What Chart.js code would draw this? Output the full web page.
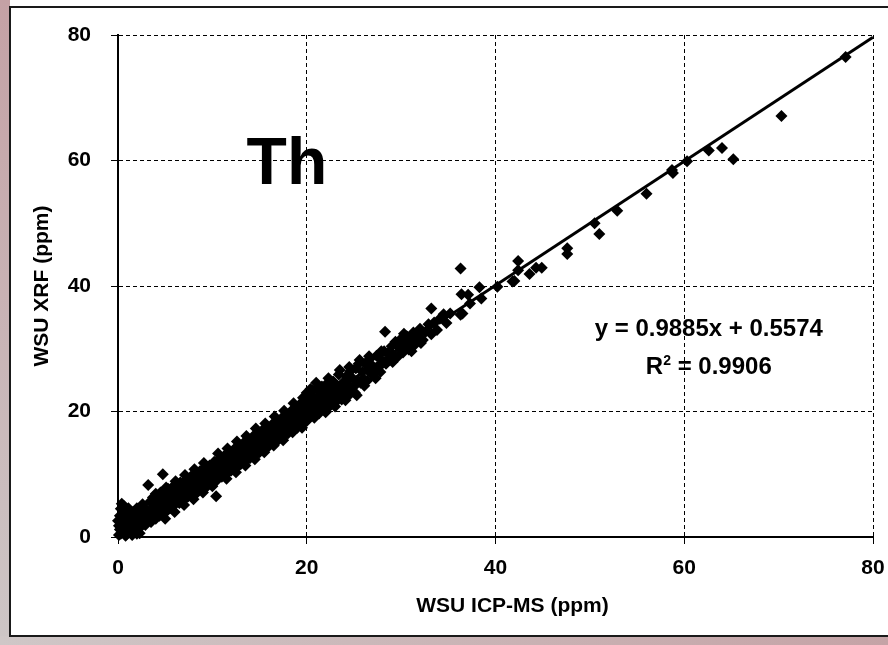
<!DOCTYPE html>
<html>
<head>
<meta charset="utf-8">
<script src="https://cdn.jsdelivr.net/npm/chart.js@4/dist/chart.umd.min.js"></script>
<style>
  html, body { margin: 0; padding: 0; }
  body { width: 888px; height: 645px; position: relative; overflow: hidden; background: #cbbfc0; }
  #leftStrip { position: absolute; left: 0; top: 0; width: 10px; height: 645px; background: linear-gradient(to bottom, #c4a1a5, #cdc6c6); }
  #bottomStrip { position: absolute; left: 0; top: 636px; width: 888px; height: 9px; background: linear-gradient(to right, #cfc7c7, #c5a3a6); }
  #panel { position: absolute; left: 10px; top: 0; width: 878px; height: 636px; background: #fff; }
  #chart { position: absolute; left: 0; top: 0; }
</style>
</head>
<body>
<div id="leftStrip"></div>
<div id="bottomStrip"></div>
<div id="panel"></div>
<canvas id="chart" width="888" height="645"></canvas>
<script>
// WSU ICP-MS (x) vs WSU XRF (y), Th in ppm
var samples = [
  [0.1,0.3],[0.2,1.2],[0.3,0.5],[0.3,2.1],[0.4,1.6],[0.3,4.5],[0.5,0.8],[0.5,3.0],[0.6,2.4],[0.6,5.0],
  [0.7,1.1],[0.7,4.0],[0.8,1.9],[0.9,0.4],[0.9,3.1],[1.0,1.4],[1.0,2.6],[1.1,4.6],[1.2,0.9],[1.2,2.0],
  [1.3,3.4],[1.4,1.5],[1.5,0.3],[1.5,2.8],[1.6,4.0],[1.7,2.2],[1.8,1.2],[1.8,3.5],[1.9,2.6],[2.0,4.6],
  [2.0,0.5],[2.1,1.8],[2.1,3.0],[2.2,2.3],[2.3,4.1],[2.4,1.6],[2.5,3.3],[2.6,5.2],[2.7,2.5],[2.8,3.8],
  [2.9,1.9],[3.0,4.4],[3.0,2.9],[0.0,2.6],[0.1,1.8],[0.2,3.4],[1.2,3.9],[0.8,0.2],[0.4,5.3],[2.3,0.6],
  [3.2,8.3],[4.75,10.0],[10.4,6.5],
  [3.3,3.1],[3.4,5.6],[3.5,2.4],[3.6,4.5],[3.7,6.3],[3.8,3.8],[3.9,5.2],[4.0,2.9],[4.1,6.6],[4.2,4.3],
  [4.3,5.7],[4.4,3.4],[4.5,7.1],[4.6,4.8],[4.7,6.0],[4.8,3.9],[4.9,7.3],[5.0,5.3],[5.1,6.6],[5.2,4.2],
  [5.3,7.7],[5.4,5.7],[5.5,4.6],[5.6,7.0],[5.7,6.1],[5.8,8.0],[5.9,5.0],[6.0,6.9],[6.1,5.6],[6.2,8.3],
  [6.3,6.2],[6.4,7.6],[6.5,5.4],[6.6,8.7],[6.7,6.8],[6.8,5.8],[6.9,8.0],[7.0,7.2],[7.1,6.1],[7.2,9.1],
  [7.3,7.6],[7.4,6.4],[7.5,8.5],[7.6,7.0],[7.7,9.6],[7.8,8.0],[7.9,6.8],[8.0,9.2],[8.1,7.5],[8.2,10.0],
  [8.3,8.4],[8.4,7.1],[8.5,9.6],[8.6,8.0],[8.7,10.5],[8.8,9.0],[8.9,7.6],[9.0,10.1],[9.1,8.5],[9.2,11.0],
  [9.3,9.4],[9.4,8.0],[9.5,10.6],[9.6,9.0],[9.7,11.4],[9.8,9.8],[9.9,8.6],[10.0,11.1],[10.1,9.4],[10.2,12.0],
  [10.3,10.3],
  [4.0,6.9],[5.0,2.9],[5.1,7.9],[6.0,4.0],[6.1,8.9],[7.0,5.1],[7.1,9.9],[8.0,6.0],[8.1,10.8],[9.0,7.1],
  [9.1,11.8],[10.0,8.1],
  [10.5,9.1],[10.6,11.6],[10.7,10.0],[10.8,12.5],[10.9,11.0],[11.0,9.6],[11.1,12.1],[11.2,10.6],[11.3,13.0],
  [11.4,11.5],[11.5,10.0],[11.6,12.6],[11.7,11.1],[11.8,13.4],[11.9,12.0],[12.0,10.6],[12.1,13.1],[12.2,11.6],
  [12.3,14.0],[12.4,12.4],[12.5,11.0],[12.6,13.6],[12.7,12.1],[12.8,14.5],[12.9,12.9],[13.0,11.6],[13.1,14.0],
  [13.2,12.6],[13.3,15.0],[13.4,13.4],[13.5,12.0],[13.6,14.6],[13.7,13.1],[13.8,15.5],[13.9,13.9],[14.0,12.6],
  [14.1,15.0],[14.2,13.6],[14.3,16.0],[14.4,14.3],[14.5,13.0],[14.6,15.6],[14.7,14.1],[14.8,16.4],[14.9,14.9],
  [15.0,13.5],[15.1,16.1],[15.2,14.6],[15.3,17.0],[15.4,15.3],[15.5,14.0],[15.6,16.6],[15.7,15.1],[15.8,17.4],
  [15.9,15.9],[16.0,14.5],[16.1,17.1],[16.2,15.6],[16.3,17.9],[16.4,16.3],[16.5,15.0],[16.6,17.6],[16.7,16.1],
  [16.8,18.4],[16.9,16.9],[17.0,15.5],[17.1,18.1],[17.2,16.6],[17.3,18.9],[17.4,17.3],[17.5,16.0],[17.6,18.6],
  [17.7,17.1],[17.8,19.4],[17.9,17.9],[18.0,16.5],[18.1,19.1],[18.2,17.6],[18.3,20.0],[18.4,18.3],[18.5,17.0],
  [18.6,19.7],[18.7,18.1],[18.8,20.6],[18.9,18.9],[19.0,17.4],[19.1,20.2],[19.2,18.6],[19.3,21.2],[19.4,19.4],
  [19.5,17.9],[19.6,20.8],[19.7,19.1],[19.8,21.8],[19.9,20.0],[20.0,18.5],[20.0,23.0],
  [10.6,13.3],[11.5,9.3],[11.6,14.1],[12.5,10.3],[12.6,15.2],[13.5,11.4],[13.6,16.1],[14.5,12.4],[14.6,17.3],
  [15.5,13.5],[15.6,18.1],[16.5,14.6],[16.6,19.2],[17.5,15.4],[17.6,20.1],[18.5,16.7],[18.6,21.3],[19.5,17.4],
  [19.6,22.2],[20.4,23.6],
  [20.2,21.3],[20.3,19.4],[20.4,22.4],[20.5,20.3],[20.6,23.3],[20.7,21.0],[20.8,19.0],[20.9,22.0],[21.0,20.5],
  [21.1,23.8],[21.2,21.6],[21.3,19.7],[21.4,22.7],[21.5,20.9],[21.6,24.0],[21.7,22.2],[21.8,20.3],[21.9,23.2],
  [22.0,21.5],[22.1,24.4],[22.2,22.7],[22.4,20.8],[22.5,23.7],[22.6,22.0],[22.8,24.8],[22.9,23.0],[23.0,21.4],
  [23.2,24.1],[23.3,22.5],[23.5,26.6],[23.6,23.5],[23.7,21.9],[23.9,24.7],[24.0,23.1],[24.2,25.6],[24.3,22.4],
  [24.4,24.2],[24.6,26.4],[24.7,23.0],[24.9,25.2],[25.0,24.0],[25.2,26.9],[25.3,22.6],[25.4,25.0],[25.6,28.2],
  [25.7,24.6],[25.9,26.3],[26.0,25.2],[26.2,27.6],[26.4,24.9],[26.5,26.6],[26.7,28.4],[26.9,25.9],[27.0,27.2],
  [27.2,26.2],[27.4,28.9],[27.6,27.0],[27.8,26.3],[28.0,28.1],[28.2,29.6],[28.3,32.7],[28.4,27.6],
  [21.0,24.6],[22.0,19.9],[22.3,25.3],[23.0,20.8],[23.4,25.9],[24.1,21.8],[24.5,27.1],[25.1,23.0],[25.5,27.6],
  [26.1,24.1],[26.6,28.8],[27.3,25.3],[27.9,29.6],
  [28.6,29.3],[28.8,28.2],[29.0,30.4],[29.2,29.0],[29.4,31.1],[29.6,28.7],[29.8,30.1],[30.0,31.6],[30.2,29.4],
  [30.4,30.8],[30.6,32.0],[30.8,29.9],[31.0,31.3],[31.3,32.6],[31.5,30.7],[31.8,31.9],[32.0,33.2],[32.3,31.4],
  [32.6,32.7],[32.9,33.9],[33.2,36.4],[33.2,32.3],[33.5,34.2],[33.8,33.0],[34.1,34.8],[34.5,35.5],[34.8,34.1],
  [35.2,35.6],[36.3,35.4],[36.5,35.6],[29.1,27.9],[30.3,32.4],[31.1,29.6],[32.1,30.9],
  [36.3,42.8],[36.4,38.7],[37.1,38.6],[37.3,37.2],[38.3,39.8],[38.5,38.0],[40.2,39.9],[41.8,40.7],[42.0,40.8],
  [42.4,44.0],[42.4,42.5],[43.6,41.9],[44.3,42.9],[44.9,42.9],[47.6,46.0],[47.6,45.1],[50.5,50.0],[51.0,48.3],
  [52.9,52.0],[56.0,54.7],[58.7,58.5],[58.8,58.0],[60.3,59.9],[62.6,61.6],[64.0,62.0],[65.2,60.2],[70.3,67.1],
  [77.1,76.5]
];

// linear trendline shown on the chart
var fitSlope = 0.9885;
var fitIntercept = 0.5574;
var fitRange = [0, 80];
var rSquared = '0.9906';

var axisMin = 0, axisMax = 80, axisStep = 20;
var xTitle = 'WSU ICP-MS (ppm)';
var yTitle = 'WSU XRF (ppm)';

var FONT = '"Liberation Sans", Arial, sans-serif';

var points = samples.map(function(p) { return {x: p[0], y: p[1]}; });
var fitLine = fitRange.map(function(x) { return {x: x, y: fitSlope * x + fitIntercept}; });

// outer frame lines and the text labels inside the plot
var decorPlugin = {
  id: 'decor',
  beforeDraw: function(chart) {
    var ctx = chart.ctx;
    ctx.save();
    ctx.strokeStyle = '#1a1a1a';
    ctx.lineWidth = 2;
    ctx.beginPath();
    ctx.moveTo(888, 7); ctx.lineTo(10, 7); ctx.lineTo(10, 636); ctx.lineTo(888, 636);
    ctx.stroke();
    ctx.restore();
  },
  afterDraw: function(chart) {
    var ctx = chart.ctx;
    var xs = chart.scales.x, ys = chart.scales.y;
    ctx.save();
    ctx.fillStyle = '#000';
    ctx.textBaseline = 'alphabetic';
    ctx.textAlign = 'center';

    // x axis title sits a little right of the plot centre
    ctx.font = 'bold 21px ' + FONT;
    ctx.fillText(xTitle, xs.getPixelForValue(41.8), 612);

    ctx.font = 'bold 66px ' + FONT;
    ctx.fillText('Th', xs.getPixelForValue(17.9), ys.getPixelForValue(56.2));

    var cx = xs.getPixelForValue(62.6);
    ctx.font = 'bold 24px ' + FONT;
    ctx.fillText('y = ' + fitSlope + 'x + ' + fitIntercept, cx, ys.getPixelForValue(32.1));

    // R² line with raised small 2
    var yR = ys.getPixelForValue(26.0);
    var a = 'R', b = ' = ' + rSquared;
    ctx.font = 'bold 24px ' + FONT;
    var wa = ctx.measureText(a).width, wb = ctx.measureText(b).width;
    ctx.font = 'bold 14px ' + FONT;
    var w2 = ctx.measureText('2').width;
    var start = cx - (wa + w2 + wb) / 2;
    ctx.textAlign = 'left';
    ctx.font = 'bold 24px ' + FONT;
    ctx.fillText(a, start, yR);
    ctx.fillText(b, start + wa + w2, yR);
    ctx.font = 'bold 14px ' + FONT;
    ctx.fillText('2', start + wa, yR - 9);
    ctx.restore();
  }
};

function axisOptions(title, isX) {
  return {
    type: 'linear',
    min: axisMin,
    max: axisMax,
    ticks: {
      stepSize: axisStep,
      color: '#000',
      font: {family: FONT, size: 21, weight: 'bold'},
      padding: isX ? 12 : 20
    },
    grid: {
      color: '#000',
      lineWidth: 1,
      tickLength: 7,
      tickColor: '#000',
      tickWidth: 1
    },
    border: {
      display: true,
      color: '#000',
      width: 2,
      dash: [4, 3]
    },
    title: {
      display: !isX,
      text: title,
      color: '#000',
      font: {family: FONT, size: 21, weight: 'bold'},
      padding: {top: 30, bottom: 0}
    },
    afterFit: function(scale) {
      // fixed axis boxes so the plot area lands where the reference has it
      if (isX) {
        scale.height = 108;
        scale.paddingLeft = 0;
        scale.paddingRight = 0;
      } else {
        scale.width = 118;
        scale.paddingTop = 0;
        scale.paddingBottom = 0;
      }
    }
  };
}

new Chart(document.getElementById('chart'), {
  type: 'scatter',
  data: {
    datasets: [
      {
        type: 'line',
        data: fitLine,
        showLine: true,
        borderColor: '#000',
        borderWidth: 3,
        pointRadius: 0,
        fill: false
      },
      {
        data: points,
        pointStyle: 'rectRot',
        pointRadius: 6,
        pointBackgroundColor: '#000',
        pointBorderWidth: 0,
        pointHoverRadius: 6,
        clip: 6
      }
    ]
  },
  options: {
    responsive: false,
    animation: false,
    layout: {padding: {top: 35, right: 15, left: 0, bottom: 0}},
    plugins: {
      legend: {display: false},
      tooltip: {enabled: false}
    },
    scales: {
      x: axisOptions(xTitle, true),
      y: axisOptions(yTitle, false)
    }
  },
  plugins: [decorPlugin]
});
</script>
</body>
</html>
